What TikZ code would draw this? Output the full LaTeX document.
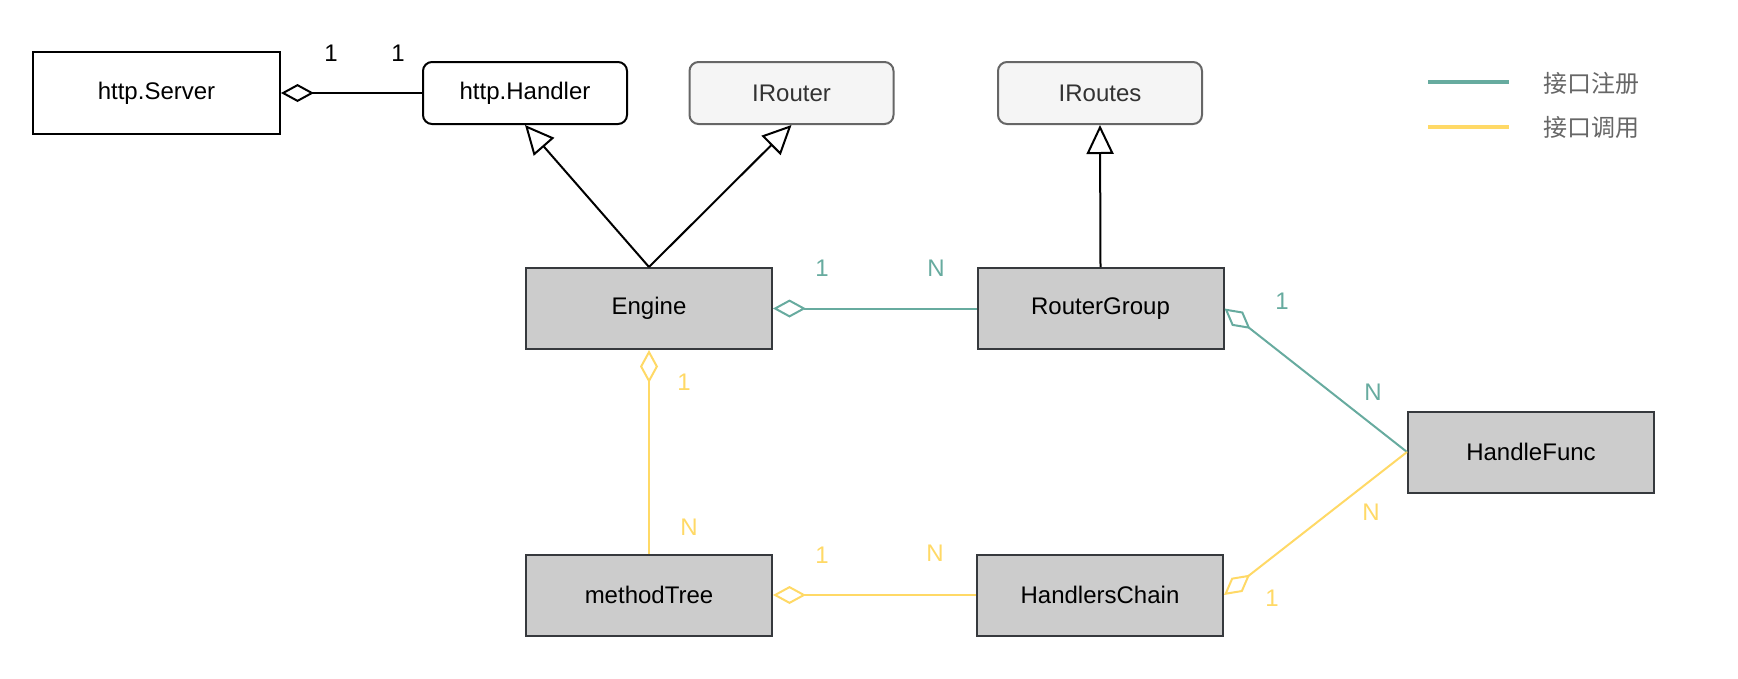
\documentclass[tikz,border=0pt]{standalone}
\usepackage{fontspec}
\setmainfont{Liberation Sans}
\newfontfamily\cjk{Noto Sans CJK SC}
\usetikzlibrary{arrows.meta}
\definecolor{regc}{HTML}{67AB9F}
\definecolor{callc}{HTML}{FFD966}
\definecolor{boxfill}{HTML}{CCCCCC}
\definecolor{boxline}{HTML}{36393D}
\definecolor{ifill}{HTML}{F5F5F5}
\definecolor{iline}{HTML}{666666}
\definecolor{itext}{HTML}{333333}
\definecolor{legtext}{HTML}{666666}
\tikzset{
  every node/.style={font=\fontsize{24}{28}\selectfont, inner sep=0pt},
  plainbox/.style={draw=black, fill=white, line width=2pt, minimum width=247pt, minimum height=82pt},
  roundbox/.style={draw=black, fill=white, line width=2pt, rounded corners=9pt, minimum width=204pt, minimum height=62pt},
  ifbox/.style={draw=iline, fill=ifill, text=itext, line width=2pt, rounded corners=9pt, minimum width=204pt, minimum height=62pt},
  graybox/.style={draw=boxline, fill=boxfill, line width=2pt, minimum width=246pt, minimum height=81pt},
  conn/.style={line width=2pt},
  aggr/.style={conn, {Diamond[open, length=33pt, width=18pt, line width=2pt]}-},
  gener/.style={conn, -{Triangle[open, length=29pt, width=27pt, line width=2pt]}},
  reg/.style={draw=regc},
  call/.style={draw=callc},
  reglab/.style={text=regc},
  calllab/.style={text=callc},
}
\begin{document}
\begin{tikzpicture}[x=1pt,y=-1pt]
\useasboundingbox (0,0) rectangle (1738,678);

% nodes
\node[plainbox] (srv) at (156.5,93) {http.Server};
\node[roundbox] (hdl) at (525,93) {http.Handler};
\node[ifbox] (irouter) at (791.5,93) {IRouter};
\node[ifbox] (iroutes) at (1100,93) {IRoutes};
\node[graybox] (engine) at (649,308.5) {Engine};
\node[graybox] (rg) at (1100.5,308.5) {RouterGroup};
\node[graybox] (hf) at (1531,452) {HandleFunc};
\node[graybox] (mt) at (649,595) {methodTree};
\node[graybox] (hc) at (1100,595) {HandlersChain};

% black connectors
\draw[aggr] (srv.east) -- (hdl.west);
\draw[gener] (engine.north) -- (hdl.south);
\draw[gener] (engine.north) -- (irouter.south);
\draw[gener] (rg.north) -- (iroutes.south);

% registration (green)
\draw[aggr, reg] (engine.east) -- (rg.west);
\draw[aggr, reg] (rg.east) -- (hf.west);

% call (yellow)
\draw[aggr, call] (engine.south) -- (mt.north);
\draw[aggr, call] (mt.east) -- (hc.west);
\draw[aggr, call] (hc.east) -- (hf.west);

% multiplicity labels
\node (l1) at (331,53) {1};
\node (l2) at (398,53) {1};
\node[reglab] (l3) at (822,268) {1};
\node[reglab] (l4) at (936,268) {N};
\node[reglab] (l5) at (1282,301) {1};
\node[reglab] (l6) at (1373,392) {N};
\node[calllab] (l7) at (684,382) {1};
\node[calllab] (l8) at (689,527) {N};
\node[calllab] (l9) at (822,555) {1};
\node[calllab] (l10) at (935,553) {N};
\node[calllab] (l11) at (1371,512) {N};
\node[calllab] (l12) at (1272,598) {1};

% legend
\coordinate (ga) at (1428,82);
\coordinate (gb) at (1509,82);
\coordinate (ya) at (1428,127);
\coordinate (yb) at (1509,127);
\draw[regc, line width=4pt] (ga) -- (gb);
\draw[callc, line width=4pt] (ya) -- (yb);
\node[anchor=west, text=legtext, font=\cjk\fontsize{24}{28}\selectfont] (lg1) at (1543,83) {接口注册};
\node[anchor=west, text=legtext, font=\cjk\fontsize{24}{28}\selectfont] (lg2) at (1543,127) {接口调用};
\end{tikzpicture}
\end{document}
